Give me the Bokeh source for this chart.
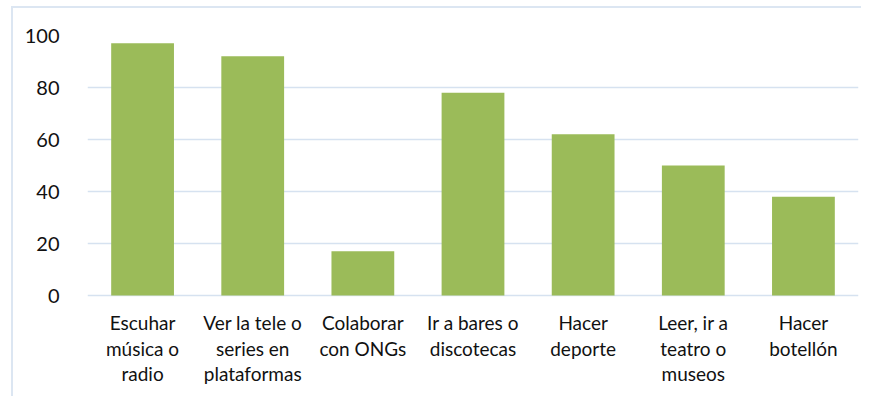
from bokeh.plotting import figure
from bokeh.models import FactorRange, Range1d, ColumnDataSource, LabelSet
from bokeh.core.properties import value
from bokeh.embed import file_html
from bokeh.resources import INLINE

categories = ["Escuhar\nmúsica o\nradio", "Ver la tele o\nseries en\nplataformas", "Colaborar\ncon ONGs",
              "Ir a bares o\ndiscotecas", "Hacer\ndeporte", "Leer, ir a\nteatro o\nmuseos", "Hacer\nbotellón"]
values = [97, 92, 17, 78, 62, 50, 38]
y_ticks = [0, 20, 40, 60, 80, 100]

FONT = "Lato"
GRID = "#D6E2F0"
TEXT = "#111111"
PX_PER_UNIT = 2.6               # 20 units = 52 px
LINE_PX = [34, 60, 85]          # baseline distance of each label line below the zero line
BOTTOM_PX = 103                 # room below the zero line for the labels

src = ColumnDataSource(dict(cat=categories, val=values))

lab_x, lab_y, lab_t = [], [], []
for c in categories:
    for i, line in enumerate(c.split("\n")):
        lab_x.append(c)
        lab_y.append(-LINE_PX[i] / PX_PER_UNIT)
        lab_t.append(line)
lab_src = ColumnDataSource(dict(x=lab_x, y=lab_y, t=lab_t))

p = figure(x_range=FactorRange(*categories), y_range=Range1d(-BOTTOM_PX / PX_PER_UNIT, 100),
           width=850, height=390, output_backend="svg", toolbar_location=None,
           min_border_left=74, min_border_right=5, min_border_top=27, min_border_bottom=0)
p.x_range.range_padding = 0
p.x_range.factor_padding = 0

p.vbar(x="cat", top="val", width=0.57, source=src, fill_color="#9BBB59", line_color=None)

p.outline_line_color = None
p.background_fill_color = "white"
p.border_fill_color = "white"
p.styles = {"border-left": "2px solid #DCE6F2", "border-top": "2px solid #DCE6F2",
            "margin-left": "11px", "margin-top": "6px"}

p.ygrid.grid_line_color = GRID
p.ygrid.grid_line_width = 1.5
p.xgrid.grid_line_color = None

p.xaxis.visible = False

p.yaxis.ticker = y_ticks
p.yaxis.axis_line_color = None
p.yaxis.major_tick_line_color = None
p.yaxis.minor_tick_line_color = None
p.yaxis.major_label_standoff = 22
p.yaxis.major_label_text_font = FONT
p.yaxis.major_label_text_font_size = "20px"
p.yaxis.major_label_text_color = TEXT

labels = LabelSet(x="x", y="y", text="t", source=lab_src,
                  text_align="center", text_baseline="alphabetic",
                  text_font=value(FONT), text_font_size="19px", text_color=TEXT)
p.add_layout(labels)

open("out.html", "w").write(file_html(p, INLINE))
